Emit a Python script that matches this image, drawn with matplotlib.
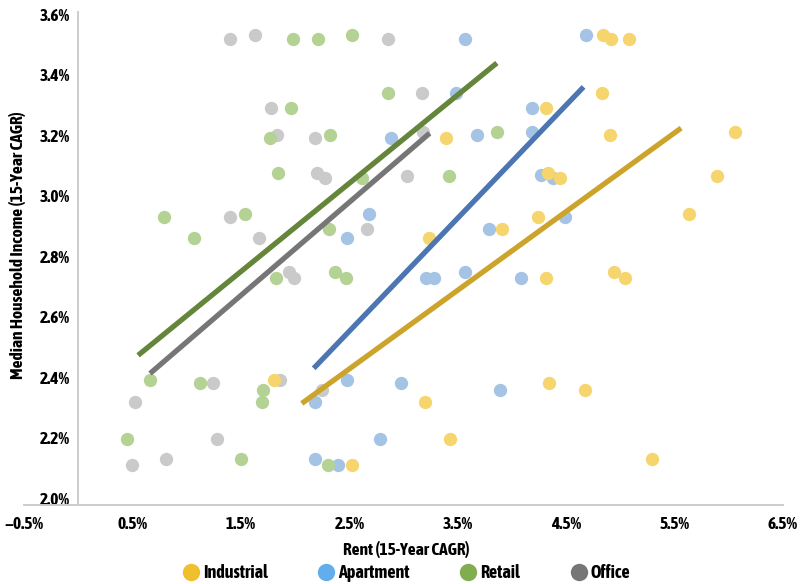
import matplotlib
matplotlib.use("Agg")
import matplotlib.pyplot as plt
from matplotlib import font_manager
from matplotlib.ticker import FixedLocator, FuncFormatter
from matplotlib.lines import Line2D

# ---------------- data (values in %) ----------------
industrial_x = [4.84, 4.91, 5.08, 4.83, 4.31, 3.39, 4.90, 6.06, 4.33, 4.44, 5.89, 3.23, 3.91,
                4.24, 5.63, 4.31, 4.94, 5.04, 1.80, 3.20, 4.34, 4.67, 3.43, 2.52, 5.29]
industrial_y = [3.53, 3.52, 3.52, 3.34, 3.29, 3.19, 3.20, 3.21, 3.075, 3.06, 3.065, 2.86, 2.89,
                2.93, 2.94, 2.73, 2.75, 2.73, 2.39, 2.32, 2.38, 2.36, 2.195, 2.11, 2.13]

apartment_x = [3.57, 4.68, 3.48, 4.18, 2.88, 3.68, 4.18, 4.27, 4.38, 2.68, 2.48, 3.79, 4.49,
               3.21, 3.28, 3.57, 4.08, 2.48, 2.18, 2.98, 3.89, 2.78, 2.18, 2.39]
apartment_y = [3.52, 3.53, 3.34, 3.29, 3.19, 3.20, 3.21, 3.07, 3.06, 2.94, 2.86, 2.89, 2.93,
               2.73, 2.73, 2.75, 2.73, 2.39, 2.32, 2.38, 2.36, 2.195, 2.13, 2.11]

retail_x = [1.98, 2.21, 2.52, 2.86, 1.96, 1.77, 2.32, 3.86, 1.84, 2.62, 3.42, 0.79, 1.54,
            1.07, 2.31, 1.82, 2.37, 2.47, 0.66, 1.12, 1.70, 1.69, 0.45, 1.50, 2.30]
retail_y = [3.52, 3.52, 3.53, 3.34, 3.29, 3.19, 3.20, 3.21, 3.075, 3.06, 3.065, 2.93, 2.94,
            2.86, 2.89, 2.73, 2.75, 2.73, 2.39, 2.38, 2.36, 2.32, 2.195, 2.13, 2.11]

office_x = [1.40, 1.63, 2.86, 1.78, 3.17, 1.83, 2.18, 3.18, 2.20, 2.27, 3.03, 1.40, 1.67,
            2.66, 1.94, 1.99, 1.24, 1.86, 0.52, 2.25, 1.28, 0.49, 0.81]
office_y = [3.52, 3.53, 3.52, 3.29, 3.34, 3.20, 3.19, 3.21, 3.075, 3.06, 3.065, 2.93, 2.86,
            2.89, 2.75, 2.73, 2.38, 2.39, 2.32, 2.36, 2.195, 2.11, 2.13]

# trend line endpoints [start, end]
trend_industrial_x = [2.06, 5.56]
trend_industrial_y = [2.314, 3.224]
trend_apartment_x = [2.17, 4.66]
trend_apartment_y = [2.430, 3.360]
trend_retail_x = [0.55, 3.86]
trend_retail_y = [2.473, 3.439]
trend_office_x = [0.66, 3.24]
trend_office_y = [2.413, 3.207]

x_ticks = [-0.5, 0.5, 1.5, 2.5, 3.5, 4.5, 5.5, 6.5]
y_ticks = [2.0, 2.2, 2.4, 2.6, 2.8, 3.0, 3.2, 3.4, 3.6]
legend_labels = ["Industrial", "Apartment", "Retail", "Office"]

# ---------------- fonts ----------------
available = {f.name for f in font_manager.fontManager.ttflist}
main_font = "DejaVu Sans"
for cand in ["Asap Condensed", "Roboto Condensed", "Liberation Sans Narrow", "DejaVu Sans Condensed"]:
    if cand in available:
        main_font = cand
        break
plt.rcParams["font.family"] = [main_font, "DejaVu Sans"]
plt.rcParams["font.weight"] = "bold"

W, H = 801, 584
fig = plt.figure(figsize=(W / 100, H / 100), dpi=100)
left, right, top, bottom = 24.3, 783, 11.7, 504.5
ax = fig.add_axes([left / W, 1 - bottom / H, (right - left) / W, (bottom - top) / H])

pt_colors = {"Industrial": "#F6D46E", "Apartment": "#A5C3E5", "Retail": "#B3D293", "Office": "#CACACA"}
line_colors = {"Industrial": "#CDA42B", "Apartment": "#4C76B2", "Retail": "#64853A", "Office": "#767676"}
leg_colors = {"Industrial": "#F0BE2F", "Apartment": "#62AEEC", "Retail": "#82AC50", "Office": "#767676"}

S = 92
ax.scatter(office_x, office_y, s=S, color=pt_colors["Office"], linewidths=0, zorder=2)
ax.scatter(apartment_x, apartment_y, s=S, color=pt_colors["Apartment"], linewidths=0, zorder=2)
ax.scatter(industrial_x, industrial_y, s=S, color=pt_colors["Industrial"], linewidths=0, zorder=2)
ax.scatter(retail_x, retail_y, s=S, color=pt_colors["Retail"], linewidths=0, zorder=2)

LW = 3.8
ax.plot(trend_industrial_x, trend_industrial_y, color=line_colors["Industrial"], lw=LW, zorder=3, solid_capstyle="butt")
ax.plot(trend_apartment_x, trend_apartment_y, color=line_colors["Apartment"], lw=LW, zorder=3, solid_capstyle="butt")
ax.plot(trend_retail_x, trend_retail_y, color=line_colors["Retail"], lw=LW, zorder=3, solid_capstyle="butt")
ax.plot(trend_office_x, trend_office_y, color=line_colors["Office"], lw=LW, zorder=3, solid_capstyle="butt")

ax.set_xlim(-0.5, 6.5)
ax.set_ylim(1.980, 3.6086)
ax.xaxis.set_major_locator(FixedLocator(x_ticks))
ax.yaxis.set_major_locator(FixedLocator(y_ticks))
ax.xaxis.set_major_formatter(FuncFormatter(lambda v, p: f"{v:.1f}%".replace("-", "\u2212")))
ax.yaxis.set_major_formatter(FuncFormatter(lambda v, p: f"{v:.1f}%"))

for s in ["top", "right"]:
    ax.spines[s].set_visible(False)
ax.spines["left"].set_position(("data", 0))
for s in ["left", "bottom"]:
    ax.spines[s].set_color("#CCCCCC")
    ax.spines[s].set_linewidth(1.4)
ax.tick_params(axis="both", length=0, labelsize=12.5)
ax.tick_params(axis="y", pad=6)
ax.tick_params(axis="x", pad=8)
for lab in ax.get_xticklabels() + ax.get_yticklabels():
    lab.set_fontweight("bold")
ax.set_facecolor("white")

fig.text(406 / W, 1 - 550 / H, "Rent (15-Year CAGR)", ha="center", va="center",
         fontsize=12.5, fontweight="bold")
fig.text(18 / W, 1 - 245 / H, "Median Household Income (15-Year CAGR)", ha="center", va="center",
         rotation=90, fontsize=12.5, fontweight="bold")

handles = [Line2D([], [], marker="o", linestyle="none", markersize=12.5,
                  markerfacecolor=leg_colors[k], markeredgewidth=0) for k in legend_labels]
fig.legend(handles, legend_labels, loc="center", bbox_to_anchor=(407 / W, 1 - 573 / H), ncol=4,
           frameon=False, handlelength=0.8, handletextpad=0.25, columnspacing=2.85,
           prop={"size": 13, "weight": "bold"}, borderaxespad=0, borderpad=0)

fig.savefig("out.png", dpi=100, facecolor="white")
